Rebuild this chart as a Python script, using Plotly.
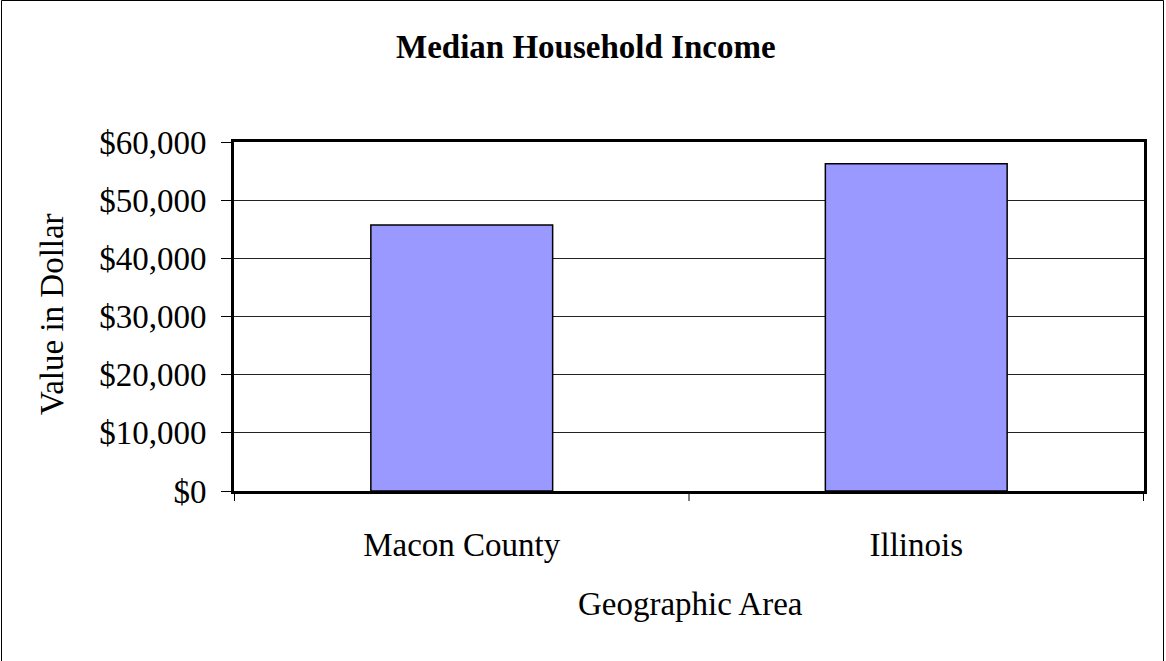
import plotly.graph_objects as go

categories = ["Macon County", "Illinois"]
values = [45750, 56250]
y_ticks = [0, 10000, 20000, 30000, 40000, 50000, 60000]
y_tick_labels = ["$0", "$10,000", "$20,000", "$30,000", "$40,000", "$50,000", "$60,000"]

W, H = 1166, 661
L, R, T, B = 234, 22, 142, 170
PW, PH = W - L - R, H - T - B
FONT = "Liberation Serif, Times New Roman, serif"


def px(x):
    return (x - L) / PW


def py(y):
    return (H - B - y) / PH


fig = go.Figure(go.Bar(
    x=categories, y=values,
    marker=dict(color="#9999ff", line=dict(color="black", width=1.5)),
    width=0.4,
))

fig.update_layout(
    width=W, height=H,
    margin=dict(l=L, r=R, t=T, b=B),
    paper_bgcolor="white", plot_bgcolor="white",
    font=dict(family=FONT, color="black"),
    showlegend=False,
)
fig.update_yaxes(
    range=[0, 60000], tickvals=y_ticks, ticktext=y_tick_labels,
    tickfont=dict(size=33), showgrid=True, gridcolor="#222222", gridwidth=1,
    showline=True, linecolor="black", linewidth=3, mirror=True,
    ticks="outside", ticklen=10, tickcolor="black", zeroline=False,
    ticklabelstandoff=8,
)
fig.update_xaxes(
    tickfont=dict(size=33), showline=True, linecolor="black", linewidth=3, mirror=True,
    ticks="", ticklabelstandoff=22,
)
# category boundary tick marks below the x axis
for xb in [-0.5, 0.5, 1.5]:
    fig.add_shape(type="line", xref="x", yref="paper", x0=xb, x1=xb, y0=0, y1=-10 / PH,
                  line=dict(color="black", width=1))
# outer chart border
fig.add_shape(type="rect", xref="paper", yref="paper",
              x0=px(1.5), x1=px(1163.5), y0=py(665), y1=py(0.5),
              line=dict(color="black", width=1), layer="below")

fig.add_annotation(text="<b>Median Household Income</b>", xref="paper", yref="paper",
                   x=px(586), y=py(47), xanchor="center", yanchor="middle",
                   showarrow=False, font=dict(size=33, family=FONT))
fig.add_annotation(text="Value in Dollar", xref="paper", yref="paper",
                   x=px(52), y=py(314), xanchor="center", yanchor="middle", textangle=-90,
                   showarrow=False, font=dict(size=33, family=FONT))
fig.add_annotation(text="Geographic Area", xref="paper", yref="paper",
                   x=px(690), y=py(604), xanchor="center", yanchor="middle",
                   showarrow=False, font=dict(size=33, family=FONT))

fig.write_html("out.html", config={"displayModeBar": False},
               post_script="document.body.style.margin='0';")
